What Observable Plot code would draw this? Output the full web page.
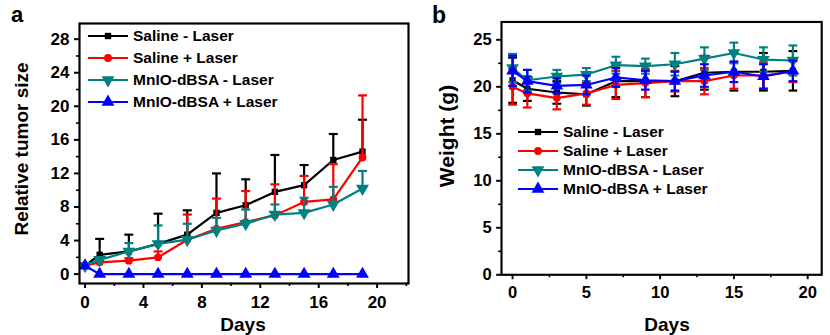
<!DOCTYPE html>
<html>
<head>
<meta charset="utf-8">
<script src="https://cdn.jsdelivr.net/npm/d3@7"></script>
<script src="https://cdn.jsdelivr.net/npm/@observablehq/plot@0.6"></script>
<style>
  html, body { margin: 0; padding: 0; background: #fff; }
  #wrap { position: relative; width: 830px; height: 335px; overflow: hidden; background: #fff;
          font-family: "Liberation Sans", Arial, sans-serif; font-weight: bold; color: #000; }
  .abs { position: absolute; white-space: nowrap; }
  .title { font-size: 19px; }
  .leg { font-size: 15.5px; }
</style>
</head>
<body>
<div id="wrap">
  <div id="pa" class="abs" style="left:0;top:0"></div>
  <div id="pb" class="abs" style="left:420px;top:0"></div>
</div>
<script>
// ---------- data ----------
const days = [0, 1, 3, 5, 7, 9, 11, 13, 15, 17, 19];
const groups = ["Saline - Laser", "Saline + Laser", "MnIO-dBSA - Laser", "MnIO-dBSA + Laser"];
const colors = ["#000000", "#ff0000", "#008080", "#0000ff"];

// panel a: relative tumor size (mean, upper error)
const tumorSalineMinus      = [1, 2.3, 2.7, 3.6, 4.7, 7.3, 8.2, 9.8, 10.6, 13.6, 14.6];
const tumorSalineMinusErr   = [0, 1.9, 2.0, 3.6, 2.9, 4.7, 3.1, 4.4, 2.4, 3.1, 3.8];
const tumorSalinePlus       = [1, 1.4, 1.6, 2.0, 4.1, 5.4, 6.2, 7.0, 8.6, 8.9, 13.9];
const tumorSalinePlusErr    = [0, 0.3, 0.3, 0.7, 3.0, 3.6, 3.7, 3.7, 3.1, 4.2, 7.4];
const tumorMnioMinus        = [1, 1.7, 2.7, 3.6, 4.1, 5.2, 6.0, 7.1, 7.3, 8.3, 10.2];
const tumorMnioMinusErr     = [0, 0.3, 1.0, 2.2, 1.9, 1.5, 1.7, 1.2, 1.8, 2.1, 2.1];
const tumorMnioPlus         = [1, 0, 0, 0, 0, 0, 0, 0, 0, 0, 0];
const tumorMnioPlusErr      = [0, 0, 0, 0, 0, 0, 0, 0, 0, 0, 0];

// panel b: weight (g) (mean, sd)
const weightSalineMinus     = [20.7, 19.8, 19.4, 19.2, 20.6, 20.6, 20.6, 21.5, 21.6, 21.6, 21.7];
const weightSalineMinusSd   = [2.4, 1.3, 1.2, 1.2, 1.7, 1.7, 1.6, 1.8, 2.0, 2.0, 2.1];
const weightSalinePlus      = [20.0, 19.3, 18.8, 19.3, 20.2, 20.4, 20.6, 20.6, 21.2, 21.2, 21.6];
const weightSalinePlusSd    = [1.9, 1.5, 1.2, 1.2, 1.5, 1.5, 1.1, 1.4, 1.4, 1.4, 1.1];
const weightMnioMinus       = [22.0, 20.7, 21.1, 21.3, 22.3, 22.2, 22.4, 23.0, 23.6, 22.9, 22.8];
const weightMnioMinusSd     = [1.5, 1.1, 0.7, 0.7, 0.9, 0.8, 1.2, 1.2, 1.1, 1.3, 1.6];
const weightMnioPlus        = [21.7, 20.6, 20.1, 20.2, 21.0, 20.7, 20.6, 21.2, 21.6, 21.1, 21.7];
const weightMnioPlusSd      = [1.6, 1.2, 0.8, 1.0, 1.0, 1.0, 1.0, 1.2, 1.1, 1.3, 1.1];

// ticks
const aTicksX = [0, 4, 8, 12, 16, 20];
const aMinorX = [2, 6, 10, 14, 18, 22];
const aTicksY = [0, 4, 8, 12, 16, 20, 24, 28];
const aMinorY = [2, 6, 10, 14, 18, 22, 26];
const bTicksX = [0, 5, 10, 15, 20];
const bMinorX = [2.5, 7.5, 12.5, 17.5];
const bTicksY = [0, 5, 10, 15, 20, 25];
const bMinorY = [2.5, 7.5, 12.5, 17.5, 22.5];

// ---------- symbols ----------
const s3 = Math.sqrt(3);
const triDown = {draw(ctx, size) {
  const y = -Math.sqrt(size / (s3 * 3));
  ctx.moveTo(0, -y * 2); ctx.lineTo(-s3 * y, y); ctx.lineTo(s3 * y, y); ctx.closePath();
}};
const capSym = {draw(ctx, size) {
  const r = Math.sqrt(size / Math.PI);
  ctx.moveTo(-r, 0); ctx.lineTo(r, 0);
}};
const symbols = [d3.symbolSquare, d3.symbolCircle, triDown, d3.symbolTriangle];
const symR = [3.6, 3.9, 4.8, 4.8];

function rowsOf(means, errs) {
  return means.flatMap((m, k) => days.map((d, i) => ({day: d, group: groups[k], k, mean: m[i], err: errs[k][i]})));
}
const tumorRows = rowsOf(
  [tumorSalineMinus, tumorSalinePlus, tumorMnioMinus, tumorMnioPlus],
  [tumorSalineMinusErr, tumorSalinePlusErr, tumorMnioMinusErr, tumorMnioPlusErr]);
const weightRows = rowsOf(
  [weightSalineMinus, weightSalinePlus, weightMnioMinus, weightMnioPlus],
  [weightSalineMinusSd, weightSalinePlusSd, weightMnioMinusSd, weightMnioPlusSd]);

function seriesMarks(rows, both) {
  const marks = [];
  for (let k = 0; k < groups.length; k++) {
    const data = rows.filter(r => r.k === k);
    const eb = data.filter(r => r.err > 0);
    marks.push(Plot.ruleX(eb, {x: "day", y1: r => both ? r.mean - r.err : r.mean, y2: r => r.mean + r.err,
                               stroke: colors[k], strokeWidth: 2.2}));
    marks.push(Plot.dot(eb, {x: "day", y: r => r.mean + r.err, symbol: capSym, r: 4.5,
                             fill: "none", stroke: colors[k], strokeWidth: 2.2}));
    if (both) marks.push(Plot.dot(eb, {x: "day", y: r => r.mean - r.err, symbol: capSym, r: 4.5,
                             fill: "none", stroke: colors[k], strokeWidth: 2.2}));
    marks.push(Plot.line(data, {x: "day", y: "mean", stroke: colors[k], strokeWidth: 2.2}));
    marks.push(Plot.dot(data, {x: "day", y: "mean", symbol: symbols[k], r: symR[k], fill: colors[k], stroke: "none"}));
  }
  return marks;
}

const baseStyle = {fontFamily: "'Liberation Sans', Arial, sans-serif", fontWeight: "bold", fontSize: "17px",
                   color: "#000", background: "transparent", overflow: "visible"};

function axes(tx, mx, ty, my) {
  return [
    Plot.axisX({ticks: tx, tickSize: 5, tickPadding: 7, strokeWidth: 2, label: null}),
    Plot.axisX({ticks: mx, tickSize: 3, strokeWidth: 1.6, tickFormat: () => "", label: null}),
    Plot.axisY({ticks: ty, tickSize: 5, tickPadding: 5, strokeWidth: 2, label: null}),
    Plot.axisY({ticks: my, tickSize: 3, strokeWidth: 1.6, tickFormat: () => "", label: null}),
    Plot.frame({stroke: "#000", strokeWidth: 2.2})
  ];
}

const plotA = Plot.plot({
  width: 415, height: 335,
  marginLeft: 79, marginRight: 7, marginTop: 23, marginBottom: 52,
  x: {domain: [-0.38, 22.15]},
  y: {domain: [-1.12, 29.87]},
  style: baseStyle,
  marks: [...seriesMarks(tumorRows, false), ...axes(aTicksX, aMinorX, aTicksY, aMinorY)]
});
document.getElementById("pa").appendChild(plotA);

const plotB = Plot.plot({
  width: 420, height: 335,
  marginLeft: 83, marginRight: 9, marginTop: 22, marginBottom: 54,
  x: {domain: [-0.75, 20.95]},
  y: {domain: [0, 26.9]},
  style: baseStyle,
  marks: [...seriesMarks(weightRows, true), ...axes(bTicksX, bMinorX, bTicksY, bMinorY)]
});
document.getElementById("pb").appendChild(plotB);

// ---------- text overlays ----------
const wrap = document.getElementById("wrap");
function addText(txt, css, cls) {
  const el = document.createElement("div");
  el.className = "abs " + (cls || "");
  el.textContent = txt;
  el.style.cssText += css;
  wrap.appendChild(el);
  return el;
}
addText("a", "left:11px;top:2px;font-size:22px;");
addText("b", "left:432px;top:2px;font-size:23px;");
addText("Relative tumor size", "left:22px;top:149px;transform:translate(-50%,-50%) rotate(-90deg);", "title");
addText("Weight (g)", "left:447px;top:136px;transform:translate(-50%,-50%) rotate(-90deg);font-size:21px;");
addText("Days", "left:243px;top:325px;transform:translate(-50%,-50%);", "title");
addText("Days", "left:667px;top:325px;transform:translate(-50%,-50%);", "title");

// legends
function legend(x0, ys) {
  groups.forEach((g, k) => {
    const y = ys[k];
    const svg = d3.create("svg").attr("width", 42).attr("height", 14)
      .style("position", "absolute").style("left", x0 + "px").style("top", (y - 7) + "px").style("overflow", "visible");
    svg.append("line").attr("x1", 0).attr("x2", 40).attr("y1", 7).attr("y2", 7)
      .attr("stroke", colors[k]).attr("stroke-width", 2.2);
    svg.append("path").attr("transform", "translate(20,7)")
      .attr("d", d3.symbol(symbols[k], Math.PI * symR[k] * symR[k])())
      .attr("fill", colors[k]);
    wrap.appendChild(svg.node());
    addText(g, `left:${x0 + 45}px;top:${y}px;transform:translateY(-50%);`, "leg");
  });
}
legend(88, [36, 58, 80, 102]);
legend(518, [131.5, 150.8, 170, 189.3]);
</script>
</body>
</html>
